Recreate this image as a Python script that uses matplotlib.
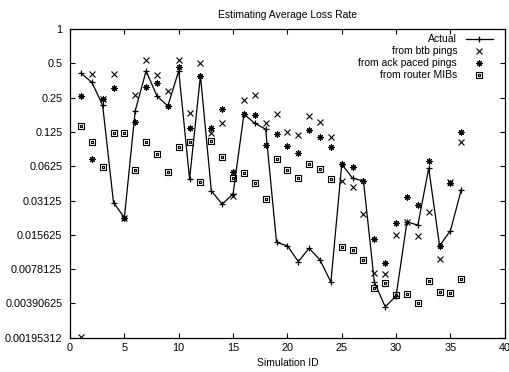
import matplotlib
matplotlib.use("Agg")
import matplotlib.pyplot as plt
from matplotlib.path import Path
import numpy as np

sim_id = list(range(1, 37))
actual = [0.409, 0.341, 0.215, 0.030, 0.0221, 0.192, 0.428, 0.258, 0.211, 0.43,
          0.0483, 0.39, 0.038, 0.029, 0.0357, 0.179, 0.149, 0.132, 0.0134, 0.0125,
          0.0091, 0.0119, 0.0094, 0.0060, 0.065, 0.049, 0.0464, 0.0060, 0.00364, 0.00455,
          0.0203, 0.019, 0.060, 0.0125, 0.0170, 0.039]
btb = [0.0020, 0.40, 0.241, 0.406, 0.0221, 0.262, 0.53, 0.395, 0.287, 0.54,
       0.182, 0.50, 0.123, 0.149, 0.034, 0.237, 0.262, 0.151, 0.178, 0.124,
       0.117, 0.171, 0.153, 0.112, 0.046, 0.041, 0.024, 0.0072, 0.0071, 0.0157,
       0.0203, 0.0152, 0.025, 0.0096, 0.045, 0.101]
ack = [0.257, 0.073, 0.243, 0.305, 0.0221, 0.152, 0.312, 0.336, 0.211, 0.467,
       0.135, 0.39, 0.134, 0.198, 0.056, 0.179, 0.176, 0.096, 0.121, 0.094,
       0.081, 0.129, 0.112, 0.092, 0.065, 0.061, 0.0464, 0.0144, 0.0088, 0.020,
       0.0333, 0.0284, 0.070, 0.0125, 0.0448, 0.126]
mib = [0.140, 0.101, 0.061, 0.122, 0.122, 0.058, 0.102, 0.080, 0.0556, 0.093,
       0.101, 0.0457, 0.105, 0.076, 0.049, 0.055, 0.0448, 0.032, 0.072, 0.058,
       0.049, 0.065, 0.059, 0.048, 0.0121, 0.0115, 0.0093, 0.0053, 0.0059, 0.00463,
       0.00476, 0.00396, 0.0061, 0.0049, 0.0048, 0.0064]

ytick_vals = [2.0 ** -k for k in range(0, 10)]
ytick_labels = ["1", "0.5", "0.25", "0.125", "0.0625", "0.03125", "0.015625",
                "0.0078125", "0.00390625", "0.00195312"]
xtick_vals = list(range(0, 41, 5))

plt.rcParams['font.family'] = ['Liberation Sans', 'DejaVu Sans']

# square with a center dot marker
sq = [(-1, -1), (1, -1), (1, 1), (-1, 1), (-1, -1)]
dot = [(-0.15, -0.15), (0.15, -0.15), (0.15, 0.15), (-0.15, 0.15), (-0.15, -0.15)]
verts = sq + dot
codes = [Path.MOVETO] + [Path.LINETO] * 3 + [Path.CLOSEPOLY] + [Path.MOVETO] + [Path.LINETO] * 3 + [Path.CLOSEPOLY]
sqdot = Path(verts, codes)

fig = plt.figure(figsize=(5.1, 3.72), dpi=100)
ax = fig.add_axes([0.1373, 0.0922, 0.8525, 0.8298])

ax.plot(sim_id, actual, color='black', lw=0.9, marker='+', ms=5, mew=0.9, label='Actual')
ax.plot(sim_id, btb, ls='none', color='black', marker='x', ms=4, mew=0.8, label='from btb pings')
ax.plot(sim_id, ack, ls='none', color='black', marker=(8, 2, 0), ms=4.3, mew=0.8, label='from ack paced pings')
ax.plot(sim_id, mib, ls='none', color='black', marker=sqdot, ms=5, mew=0.8,
        mfc='none', label='from router MIBs')

ax.set_yscale('log', base=2)
ax.set_ylim(2.0 ** -9, 1)
ax.set_xlim(0, 40)
ax.set_yticks(ytick_vals)
ax.set_yticklabels(ytick_labels)
ax.yaxis.set_minor_locator(matplotlib.ticker.NullLocator())
ax.set_xticks(xtick_vals)
ax.tick_params(direction='in', length=3.5, width=0.8, labelsize=7.8, top=True, right=True)
ax.tick_params(axis='y', pad=5.5)
ax.tick_params(axis='x', pad=3.5)
for s in ax.spines.values():
    s.set_linewidth(0.9)

ax.set_title('Estimating Average Loss Rate', fontsize=7.5, pad=8)
ax.set_xlabel('Simulation ID', fontsize=7.5, labelpad=4)

leg = ax.legend(loc='upper right', bbox_to_anchor=(0.984, 1.0), frameon=False,
                markerfirst=False, fontsize=7.5,
                handlelength=2.6, handletextpad=0.8, labelspacing=0.2,
                borderaxespad=0.3, borderpad=0.2)
try:
    vp = leg._legend_box._children[-1]._children[0]
    vp.align = "right"
except Exception:
    pass

fig.savefig('out.png', dpi=100)
